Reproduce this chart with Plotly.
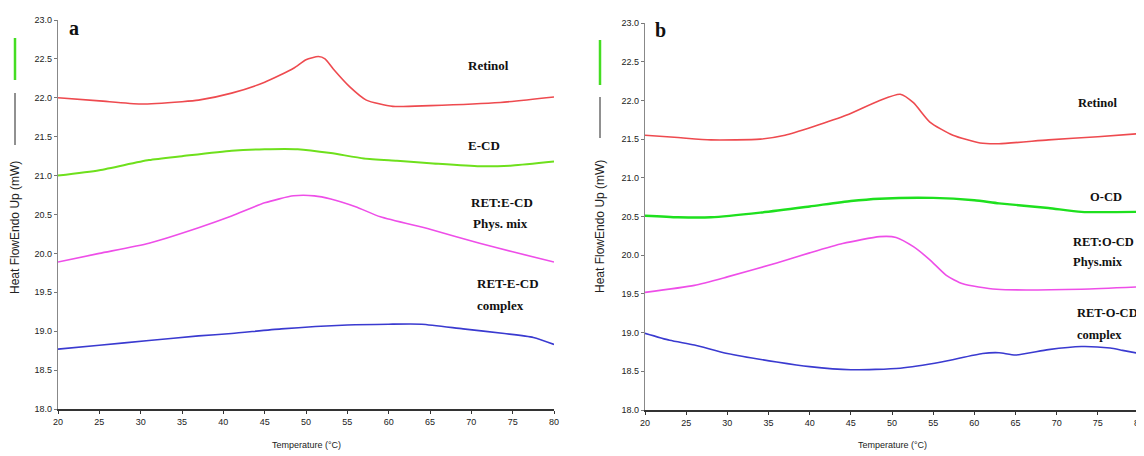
import plotly.graph_objects as go

# ---------------- data: panel a ----------------
a_ret_x = [20, 25, 30, 35, 37, 41, 45, 48.5, 50, 51.5, 52.3, 53.3, 55.3, 57.3, 60.5, 65, 73.5, 80]
a_ret_y = [22.0, 21.96, 21.92, 21.95, 21.97, 22.06, 22.2, 22.38, 22.49, 22.53, 22.5, 22.37, 22.14, 21.97, 21.89, 21.9, 21.94, 22.01]

a_ecd_x = [20, 25, 31, 35, 41, 45, 49, 53, 57, 61, 65, 71, 75, 80]
a_ecd_y = [21.0, 21.07, 21.2, 21.25, 21.32, 21.34, 21.34, 21.29, 21.22, 21.19, 21.16, 21.12, 21.13, 21.18]

a_mix_x = [20, 25, 31, 37, 41, 45, 48.5, 51, 53, 56, 59, 65, 71, 75, 80]
a_mix_y = [19.89, 20.0, 20.13, 20.33, 20.48, 20.65, 20.74, 20.74, 20.7, 20.6, 20.47, 20.31, 20.13, 20.02, 19.89]

a_cpx_x = [20, 25, 31, 37, 41, 47, 55, 60, 64, 69, 74, 77.5, 80]
a_cpx_y = [18.77, 18.82, 18.88, 18.94, 18.97, 19.03, 19.08, 19.09, 19.09, 19.03, 18.97, 18.92, 18.83]

# ---------------- data: panel b ----------------
b_ret_x = [20, 24, 28, 34, 37, 40.4, 44.5, 48.5, 51, 52.6, 54.6, 57.4, 60.7, 63, 69, 75, 80]
b_ret_y = [21.55, 21.52, 21.49, 21.5, 21.55, 21.66, 21.81, 22.0, 22.08, 21.97, 21.72, 21.55, 21.45, 21.44, 21.49, 21.53, 21.57]

b_ocd_x = [20, 24, 28, 34, 40, 45, 48.5, 55, 60, 63, 69, 73, 80]
b_ocd_y = [20.51, 20.49, 20.49, 20.55, 20.63, 20.7, 20.73, 20.74, 20.71, 20.67, 20.61, 20.56, 20.56]

b_mix_x = [20, 26, 30, 36, 40, 44, 48.5, 50.5, 52.6, 54.6, 56.6, 58.6, 62.7, 73, 80]
b_mix_y = [19.52, 19.61, 19.72, 19.9, 20.03, 20.15, 20.24, 20.23, 20.11, 19.94, 19.74, 19.63, 19.56, 19.56, 19.59]

b_cpx_x = [20, 23, 26, 30, 36, 40, 45, 51, 56, 61, 63, 65, 69, 73, 76.5, 78, 80]
b_cpx_y = [18.99, 18.9, 18.84, 18.73, 18.62, 18.56, 18.52, 18.54, 18.62, 18.73, 18.74, 18.71, 18.78, 18.82, 18.8, 18.77, 18.73]

x_ticks = [20, 25, 30, 35, 40, 45, 50, 55, 60, 65, 70, 75, 80]
y_ticks = [18.0, 18.5, 19.0, 19.5, 20.0, 20.5, 21.0, 21.5, 22.0, 22.5, 23.0]

a_labels = ["Retinol", "E-CD", "RET:E-CD", "Phys. mix", "RET-E-CD", "complex"]
b_labels = ["Retinol", "O-CD", "RET:O-CD", "Phys.mix", "RET-O-CD", "complex"]
y_title = "Heat FlowEndo Up (mW)"
x_title = "Temperature (°C)"

RED = "#ee4a4f"
GREEN_A = "#6ee01c"
GREEN_B = "#1ee01e"
MAGENTA = "#ee4ee8"
BLUE = "#3a3ad0"

OFF = 8                      # page body margin
W, H = 1144 - OFF, 456 - OFF

fig = go.Figure()

def add(x, y, color, xa, ya, width=1.6):
    fig.add_trace(go.Scatter(x=x, y=y, mode="lines", xaxis=xa, yaxis=ya,
                             line=dict(color=color, width=width, shape="spline", smoothing=0.6),
                             showlegend=False, hoverinfo="skip"))

add(a_ret_x, a_ret_y, RED, "x", "y")
add(a_ecd_x, a_ecd_y, GREEN_A, "x", "y", 2.0)
add(a_mix_x, a_mix_y, MAGENTA, "x", "y")
add(a_cpx_x, a_cpx_y, BLUE, "x", "y")

add(b_ret_x, b_ret_y, RED, "x2", "y2")
add(b_ocd_x, b_ocd_y, GREEN_B, "x2", "y2", 2.4)
add(b_mix_x, b_mix_y, MAGENTA, "x2", "y2")
add(b_cpx_x, b_cpx_y, BLUE, "x2", "y2")

tickfont = dict(family="Liberation Sans Narrow, Arial Narrow, Liberation Sans, Arial", size=9, color="#222")

def fx(xp):
    return (xp - OFF) / W

def fy(yp):
    return 1 - (yp - OFF) / H

def xaxis(domain, anchor):
    return dict(domain=domain, range=[20, 80], tickvals=x_ticks, ticks="outside", ticklen=3,
                tickcolor="#333", showline=True, linecolor="#333", linewidth=1.5, automargin=False,
                ticklabeloverflow="allow",
                showgrid=False, zeroline=False, tickfont=tickfont, anchor=anchor, fixedrange=True)

def yaxis(domain, anchor):
    return dict(domain=domain, range=[18, 23], tickvals=y_ticks, tickformat=".1f", ticks="outside",
                ticklen=3, tickcolor="#777", showline=True, linecolor="#888", linewidth=1.2, automargin=False,
                ticklabeloverflow="allow",
                showgrid=False, zeroline=False, tickfont=tickfont, anchor=anchor, fixedrange=True)

fig.update_layout(
    width=W, height=H,
    margin=dict(l=0, r=0, t=0, b=0, autoexpand=False),
    paper_bgcolor="white", plot_bgcolor="white",
    xaxis=xaxis([fx(58), fx(554)], "y"),
    yaxis=yaxis([fy(409), fy(20)], "x"),
    xaxis2=xaxis([fx(645), fx(1139)], "y2"),
    yaxis2=yaxis([fy(410), fy(23)], "x2"),
)

serif = dict(family="Liberation Serif, Times New Roman, serif", size=13, color="#111", weight="bold")

def label(text, xp, yp, font=serif, xanchor="left"):
    fig.add_annotation(text=text, x=fx(xp), y=fy(yp), xref="paper", yref="paper", showarrow=False,
                       xanchor=xanchor, yanchor="middle", font=font)

# panel letters
big = dict(family="Liberation Serif, Times New Roman, serif", size=20, color="#111", weight="bold")
label("a", 67, 28, big)
label("b", 653, 30, big)

# series labels panel a
label(a_labels[0], 466, 66)
label(a_labels[1], 466, 145)
label(a_labels[2], 469, 202)
label(a_labels[3], 471, 223)
label(a_labels[4], 475, 283)
label(a_labels[5], 475, 305)

# series labels panel b
serif_b = dict(serif, size=12.5)
label(b_labels[0], 1076, 103, serif_b)
label(b_labels[1], 1088, 197, serif_b)
label(b_labels[2], 1071, 242, serif_b)
label(b_labels[3], 1071, 262, serif_b)
label(b_labels[4], 1075, 313, serif_b)
label(b_labels[5], 1075, 335, serif_b)

# axis titles
sans = dict(family="Liberation Sans, Arial, sans-serif", size=12, color="#222")
for xp, yc in [(15, 228), (600, 227)]:
    fig.add_annotation(text=y_title, x=fx(xp), y=fy(yc), xref="paper", yref="paper", showarrow=False,
                       textangle=-90, xanchor="center", yanchor="middle", font=sans)

narrow = dict(family="Liberation Sans Narrow, Arial Narrow, Liberation Sans, Arial", size=9, color="#222")
label(x_title, 306, 445, narrow, "center")
label(x_title, 892, 445, narrow, "center")

# instrument legend remnants beside y titles
for xp, g0, g1, k0, k1 in [(15, 38, 80, 93, 145), (600, 40, 85, 97, 138)]:
    fig.add_shape(type="line", xref="paper", yref="paper",
                  x0=fx(xp), x1=fx(xp), y0=fy(g0), y1=fy(g1),
                  line=dict(color="#44dd22", width=2.5))
    fig.add_shape(type="line", xref="paper", yref="paper",
                  x0=fx(xp), x1=fx(xp), y0=fy(k0), y1=fy(k1),
                  line=dict(color="#222", width=1))

fig.write_html("out.html")
